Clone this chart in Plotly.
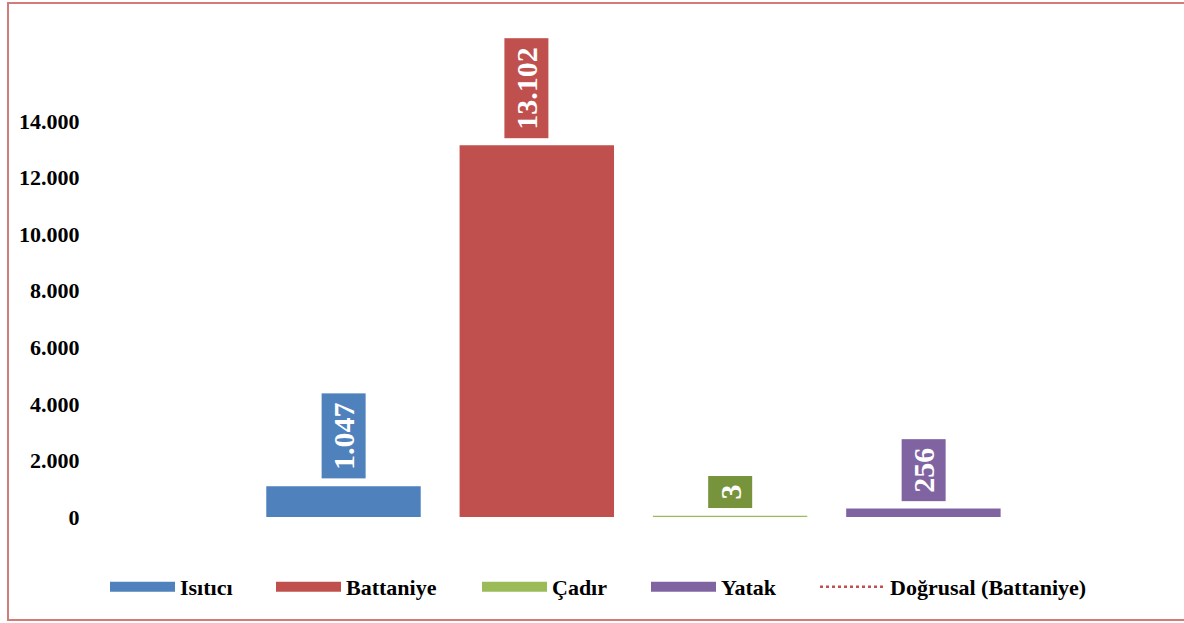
import plotly.graph_objects as go

categories = ["Isıtıcı", "Battaniye", "Çadır", "Yatak"]
values = [1047, 13102, 3, 256]
value_labels = ["1.047", "13.102", "3", "256"]
bar_colors = ["#4F81BD", "#C0504D", "#9BBB59", "#8064A2"]
label_colors = ["#4F81BD", "#C0504D", "#77933C", "#8064A2"]
label_xshift = [0, -10, 0, 0]
trend_name = "Doğrusal (Battaniye)"
tick_vals = [0, 2000, 4000, 6000, 8000, 10000, 12000, 14000]
tick_text = ["0", "2.000", "4.000", "6.000", "8.000", "10.000", "12.000", "14.000"]

W, H = 1184, 623
ML, MR, MT, MB = 95, 18, 20, 106
FONT = "Liberation Serif"
BORDER = "#D27C7A"

pw = W - ML - MR
ph = H - MT - MB
def px2paper_x(p):
    return (p - ML) / pw
def py2paper_y(p):
    return (H - MB - p) / ph

legend_left_px = [110, 276, 482, 651, 820]

fig = go.Figure()
for cat, val, col in zip(categories, values, bar_colors):
    fig.add_trace(go.Bar(x=[cat], y=[val], name=cat, marker_color=col,
                         marker_line=dict(color=col, width=2.5), showlegend=False))
leg_names = ["legend", "legend2", "legend3", "legend4", "legend5"]
for i, (cat, col) in enumerate(zip(categories, bar_colors)):
    fig.add_trace(go.Scatter(x=[None], y=[None], mode="lines", name=cat,
                             line=dict(color=col, width=12), legend=leg_names[i]))
fig.add_trace(go.Scatter(x=[None], y=[None], mode="lines", name=trend_name,
                         line=dict(color="#C0504D", width=2.5, dash="dot"), legend=leg_names[4]))

for cat, val, lab, col, xs in zip(categories, values, value_labels, label_colors, label_xshift):
    fig.add_annotation(x=cat, y=val, text="<b>%s</b>" % lab, showarrow=False,
                       textangle=-90, yanchor="bottom", yshift=8, xshift=xs,
                       bgcolor=col, borderpad=8, height=27,
                       font=dict(family=FONT, size=30, color="white"))

# chart frame: open path (left, top, bottom edges; right edge lies outside the picture)
frame_pts = [(1300, 620), (8, 620), (8, 3), (1300, 3)]
path = "M" + " L".join("%.5f,%.5f" % (px2paper_x(x), py2paper_y(y)) for x, y in frame_pts)
fig.add_shape(type="path", xref="paper", yref="paper", path=path,
              line=dict(color=BORDER, width=2), fillcolor="rgba(0,0,0,0)", layer="below")

leg_common = dict(orientation="h", xanchor="left", yanchor="middle",
                  font=dict(family=FONT, size=22, color="black", weight="bold"),
                  itemwidth=65, bgcolor="rgba(0,0,0,0)")
layout_legends = {}
for name, lp in zip(leg_names, legend_left_px):
    layout_legends[name] = dict(x=px2paper_x(lp - 5), y=py2paper_y(587), **leg_common)

fig.update_layout(
    width=W, height=H,
    margin=dict(l=ML, r=MR, t=MT, b=MB),
    paper_bgcolor="white", plot_bgcolor="white",
    barmode="group", bargap=0.214,
    font=dict(family=FONT, size=22, color="black"),
    showlegend=True,
    xaxis=dict(showticklabels=False, showline=False, showgrid=False, zeroline=False,
               range=[-(343.5 - ML) / 193.3, (W - MR - 343.5) / 193.3], fixedrange=True),
    yaxis=dict(range=[0, (H - MB - MT) / (396 / 14000)], tickvals=tick_vals, ticktext=tick_text,
               showgrid=False, zeroline=False, showline=False,
               ticks="outside", ticklen=10, tickcolor="white",
               tickfont=dict(family=FONT, size=22, color="black", weight="bold")),
    **layout_legends,
)
fig.write_html("out.html", config={"displayModeBar": False},
               post_script="document.body.style.margin='0';document.body.style.overflow='hidden';")
